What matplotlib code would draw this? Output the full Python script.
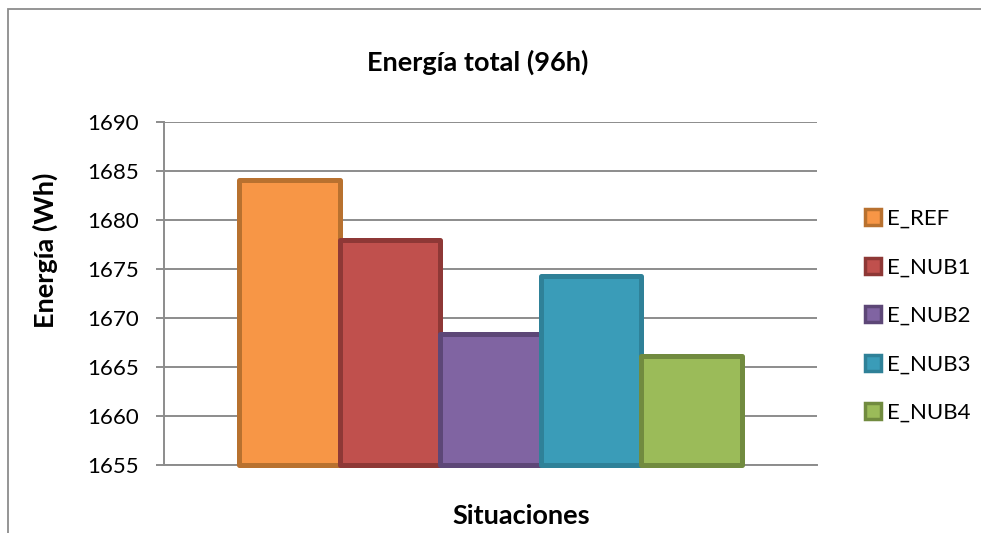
import matplotlib
matplotlib.use('Agg')
import matplotlib.pyplot as plt
from matplotlib.patches import Rectangle

plt.rcParams['font.family'] = ['Lato', 'DejaVu Sans']

# data
series = ['E_REF', 'E_NUB1', 'E_NUB2', 'E_NUB3', 'E_NUB4']
values = [1684.15, 1678.0, 1668.4, 1674.3, 1666.1]
fills = ['#F79646', '#C0504D', '#8064A2', '#3A9CB8', '#9BBB59']
edges = ['#B8712F', '#8E3836', '#5D4777', '#2F8198', '#718B3F']
yticks = [1655, 1660, 1665, 1670, 1675, 1680, 1685, 1690]

W, H = 981, 533
fig = plt.figure(figsize=(W/100., H/100.), dpi=100)

# outer chart border (Excel chart area), cut off at right/bottom
fig.patches.append(Rectangle((8./W, -0.1), 1.2, 1 - 9./H + 0.1,
                             transform=fig.transFigure, fill=False,
                             edgecolor='#8C8C8C', linewidth=1.3))

ax = fig.add_axes([164./W, 1 - 464.6/H, (817. - 164.)/W, (464.6 - 122.3)/H])

grid = '#8C8C8C'
ymin = yticks[0]
for i, (name, v) in enumerate(zip(series, values)):
    ax.bar(i - 2, v - ymin, bottom=ymin, width=1.0, color=fills[i],
           edgecolor=edges[i], linewidth=3.6, joinstyle='round',
           label=name, clip_on=False, zorder=3)

ax.set_xlim(-3.25, 3.25)
ax.set_ylim(yticks[0], yticks[-1])
ax.set_yticks(yticks)
ax.set_xticks([])
ax.yaxis.grid(True, color=grid, linewidth=1.4)
ax.set_axisbelow(True)
for s in ['top', 'right']:
    ax.spines[s].set_visible(False)
ax.spines['left'].set_color(grid)
ax.spines['left'].set_linewidth(1.4)
ax.spines['bottom'].set_color(grid)
ax.spines['bottom'].set_linewidth(1.4)
ax.tick_params(axis='y', direction='out', length=5.8, width=1.4,
               color=grid, labelsize=16, pad=12)

fig.text(478./W, 1 - 62./H, 'Energía total (96h)', ha='center',
         va='center', fontsize=19.5, fontweight='bold')
fig.text(45./W, 1 - 250./H, 'Energía (Wh)', ha='center', va='center',
         rotation=90, fontsize=19.5, fontweight='bold')
fig.text(521./W, 1 - 516./H, 'Situaciones', ha='center', va='center',
         fontsize=19.5, fontweight='bold')

leg = ax.legend(loc='center left', bbox_to_anchor=(854./W, 1 - 316./H),
                bbox_transform=fig.transFigure, frameon=False,
                fontsize=16, handlelength=0.72, handleheight=0.72,
                handletextpad=0.25, labelspacing=1.28, borderpad=0)
for p in leg.get_patches():
    p.set_linewidth(2.5)

fig.savefig('out.png', dpi=100)
